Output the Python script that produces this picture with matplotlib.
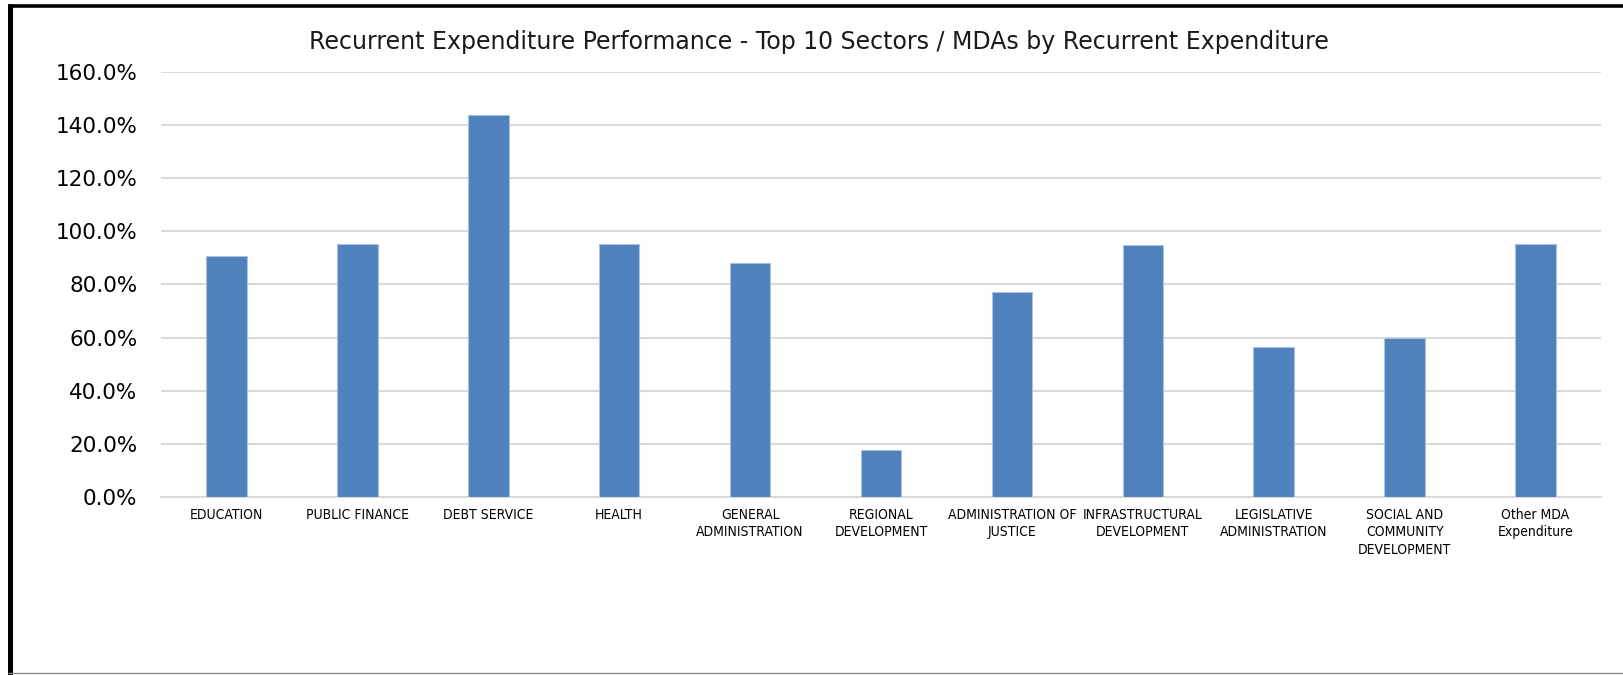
import matplotlib
matplotlib.use("Agg")
import matplotlib.pyplot as plt
from matplotlib.ticker import FuncFormatter, MultipleLocator
from matplotlib.lines import Line2D
from matplotlib import font_manager as fm

# Sector / MDA names and recurrent expenditure performance (%)
sectors = [
    "EDUCATION",
    "PUBLIC FINANCE",
    "DEBT SERVICE",
    "HEALTH",
    "GENERAL\nADMINISTRATION",
    "REGIONAL\nDEVELOPMENT",
    "ADMINISTRATION OF\nJUSTICE",
    "INFRASTRUCTURAL\nDEVELOPMENT",
    "LEGISLATIVE\nADMINISTRATION",
    "SOCIAL AND\nCOMMUNITY\nDEVELOPMENT",
    "Other MDA\nExpenditure",
]
performance = [90.7, 95.1, 143.7, 95.0, 88.2, 17.8, 77.3, 94.8, 56.4, 60.0, 95.0]

title = "Recurrent Expenditure Performance - Top 10 Sectors / MDAs by Recurrent Expenditure"

# Pick a condensed face for the category labels when one is available
condensed = fm.FontProperties(family="DejaVu Sans", stretch="condensed", size=10)
cond_path = fm.findfont(condensed)
if "Condensed" in cond_path:
    label_font = fm.FontProperties(fname=cond_path, size=10)
else:
    label_font = fm.FontProperties(family="DejaVu Sans", size=8.6)

W, H = 1623, 675
fig = plt.figure(figsize=(W / 100, H / 100), dpi=100)
fig.patch.set_facecolor("white")

ax = fig.add_axes([161 / W, 1 - 497 / H, (1601 - 161) / W, (497 - 71.7) / H])

x = list(range(len(sectors)))
ax.bar(x, performance, width=0.31, color="#4F81BD", edgecolor="#A9C1DF",
       linewidth=0.8, zorder=3)

ax.set_xlim(-0.5, len(sectors) - 0.5)
ax.set_ylim(0, 160)
ax.yaxis.set_major_locator(MultipleLocator(20))
ax.yaxis.set_major_formatter(FuncFormatter(lambda v, p: f"{v:.1f}%"))
ax.grid(axis="y", color="#D9D9D9", linewidth=1.4, zorder=0)
ax.set_axisbelow(True)

for s in ["top", "right", "left"]:
    ax.spines[s].set_visible(False)
ax.spines["bottom"].set_color("#D9D9D9")
ax.spines["bottom"].set_linewidth(1.4)

ax.set_xticks(x)
ax.set_xticklabels(sectors, fontproperties=label_font, linespacing=1.3)
ax.tick_params(axis="x", length=0, pad=8)
ax.tick_params(axis="y", length=0, pad=17, labelsize=15.5)
for lbl in ax.get_yticklabels():
    lbl.set_family("DejaVu Sans")

fig.text(819 / W, 1 - 42 / H, title, ha="center", va="center",
         fontsize=17, family="DejaVu Sans", color="#1A1A1A")

# Outer frame: heavy black left and top edges, thin grey bottom edge
fig.add_artist(Line2D([9.8 / W, 9.8 / W], [0, 1 - 4 / H], transform=fig.transFigure,
                      color="black", linewidth=3.6, solid_capstyle="butt"))
fig.add_artist(Line2D([7.5 / W, 1], [1 - 5.5 / H, 1 - 5.5 / H], transform=fig.transFigure,
                      color="black", linewidth=2.6, solid_capstyle="butt"))
fig.add_artist(Line2D([7.5 / W, 1], [1 - 672.5 / H, 1 - 672.5 / H], transform=fig.transFigure,
                      color="#8C8C8C", linewidth=1.0, solid_capstyle="butt"))

fig.savefig("out.png", dpi=100, facecolor="white")
